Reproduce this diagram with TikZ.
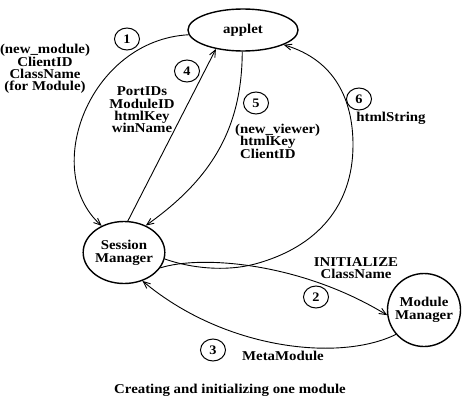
\documentclass[tikz,border=0pt]{standalone}
\usepackage{fontspec}
\setmainfont[FakeStretch=1.1]{Liberation Serif}
\usetikzlibrary{shapes.geometric,arrows.meta}
\begin{document}
\begin{tikzpicture}[x=1pt,y=-1pt,
  lbl/.style={font=\fontsize{13.5}{12.4}\selectfont\bfseries, align=center, inner sep=0pt},
  bignode/.style={draw, line width=1.4pt, font=\fontsize{13.5}{13}\selectfont\bfseries, align=center, inner sep=0pt},
  num/.style={draw, ellipse, line width=1pt, minimum width=25pt, minimum height=22pt, inner sep=0pt, font=\fontsize{13}{13}\selectfont\bfseries},
  conn/.style={line width=0.9pt, -{Straight Barb[length=7pt,width=6pt]}}]
\useasboundingbox (0,0) rectangle (471,404);
\node[bignode, ellipse, minimum width=110pt, minimum height=42pt] (applet) at (243,30) {applet};
\node[bignode, ellipse, minimum width=71pt, minimum height=62pt] (sm) at (124,252.5) {Session\\Manager};
\node[bignode, circle, minimum size=73pt] (mm) at (424,310) {Module\\Manager};

\node[num] (n1) at (127,39) {1};
\node[num] (n4) at (187,71) {4};
\node[num] (n5) at (256,103) {5};
\node[num] (n6) at (359,99) {6};
\node[num] (n2) at (316,297) {2};
\node[num] (n3) at (213,350) {3};

\draw[conn] (applet.185) .. controls (90,40) and (40,170) .. (sm.130);
\draw[conn] (sm.83) -- (applet.215);
\draw[conn] (applet.268) .. controls (242,130) and (210,180) .. (sm.51);
\draw[conn] (sm.-9) .. controls (190,268) and (225,272) .. (255,264) .. controls (318,247) and (353,205) .. (353,145) .. controls (353,100) and (335,60) .. (applet.-20);
\draw[conn] (sm.-23) .. controls (200,255) and (300,262) .. (mm.188);
\draw[conn] (mm.221) .. controls (340,362) and (225,350) .. (sm.-57);

\node[lbl] (t1) at (45,69) {(new\_module)\\ClientID\\ClassName\\(for Module)};
\node[lbl] (t4) at (142,110) {PortIDs\\ModuleID\\htmlKey\\winName};
\node[lbl, align=left, anchor=west] (t5) at (235,141) {(new\_viewer)\\\hspace*{5pt}htmlKey\\\hspace*{5pt}ClientID};
\node[lbl] (t6) at (391,118) {htmlString};
\node[lbl] (t2) at (356,268) {INITIALIZE\\ClassName};
\node[lbl] (t3) at (283,356) {MetaModule};
\node[lbl] (cap) at (230,390) {Creating and initializing one module};
\end{tikzpicture}
\end{document}
